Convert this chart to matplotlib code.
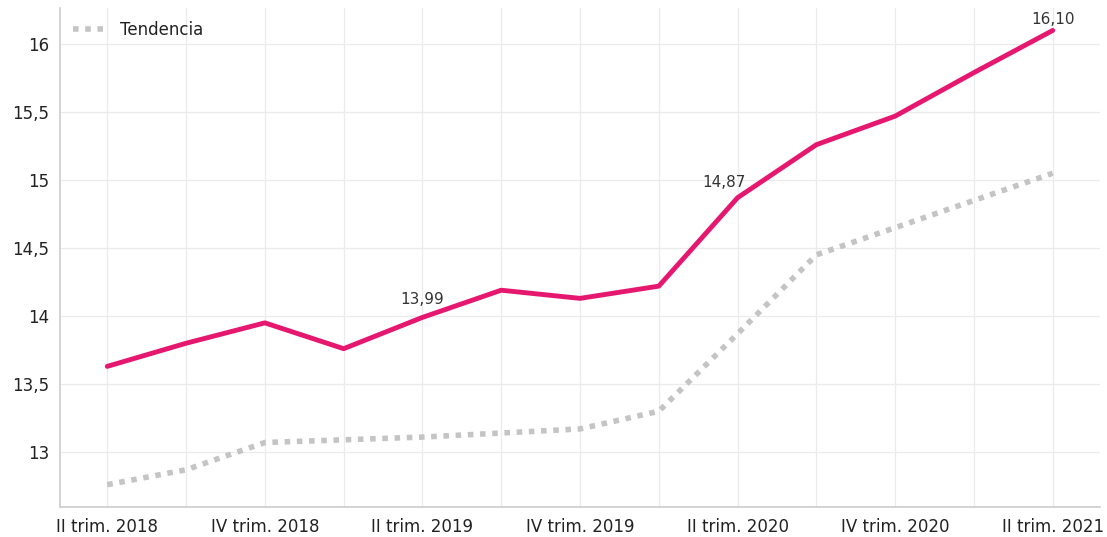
import matplotlib
matplotlib.use("Agg")
import matplotlib.pyplot as plt

trimestres = ["II trim. 2018", "III trim. 2018", "IV trim. 2018", "I trim. 2019",
              "II trim. 2019", "III trim. 2019", "IV trim. 2019", "I trim. 2020",
              "II trim. 2020", "III trim. 2020", "IV trim. 2020", "I trim. 2021",
              "II trim. 2021"]
valores = [13.63, 13.80, 13.95, 13.76, 13.99, 14.19, 14.13, 14.22,
           14.87, 15.26, 15.47, 15.79, 16.10]
tendencia = [12.76, 12.87, 13.07, 13.09, 13.11, 13.14, 13.17, 13.30,
             13.87, 14.45, 14.65, 14.85, 15.05]
# indice -> (texto, desplazamiento en puntos)
etiquetas = {4: ("13,99", (0, 13)), 8: ("14,87", (-10, 11)), 12: ("16,10", (0, 8))}

fig = plt.figure(figsize=(11.07, 5.37), dpi=100)
ax = fig.add_axes([60 / 1107, 30 / 537, 1040 / 1107, 499 / 537])

x = list(range(len(trimestres)))
ax.plot(x, tendencia, color="#c4c4c4", linewidth=4, linestyle=(0, (1, 1.2)),
        label="Tendencia")
ax.plot(x, valores, color="#e6176f", linewidth=3.5, solid_capstyle="round",
        solid_joinstyle="round")

for i, (txt, off) in etiquetas.items():
    ax.annotate(txt, (x[i], valores[i]), xytext=off, textcoords="offset points",
                ha="center", va="center", fontsize=11, color="#333333")

ax.set_xlim(-0.6, 12.6)
ax.set_ylim(12.596, 16.265)
ax.set_xticks(x)
ax.set_xticklabels([t if i % 2 == 0 else "" for i, t in enumerate(trimestres)])
ax.set_yticks([13, 13.5, 14, 14.5, 15, 15.5, 16])
ax.set_yticklabels(["13", "13,5", "14", "14,5", "15", "15,5", "16"])
ax.tick_params(length=0, labelsize=12, colors="#222222", pad=8)
ax.grid(True, color="#ebebeb", linewidth=0.9)
ax.set_axisbelow(True)
for s in ["top", "right"]:
    ax.spines[s].set_visible(False)
for s in ["left", "bottom"]:
    ax.spines[s].set_color("#cccccc")
    ax.spines[s].set_linewidth(1.2)

ax.legend(loc="upper left", frameon=False, fontsize=12, handlelength=2,
          handletextpad=0.8, borderaxespad=0.4, labelcolor="#222222")

fig.savefig("out.png", dpi=100)
